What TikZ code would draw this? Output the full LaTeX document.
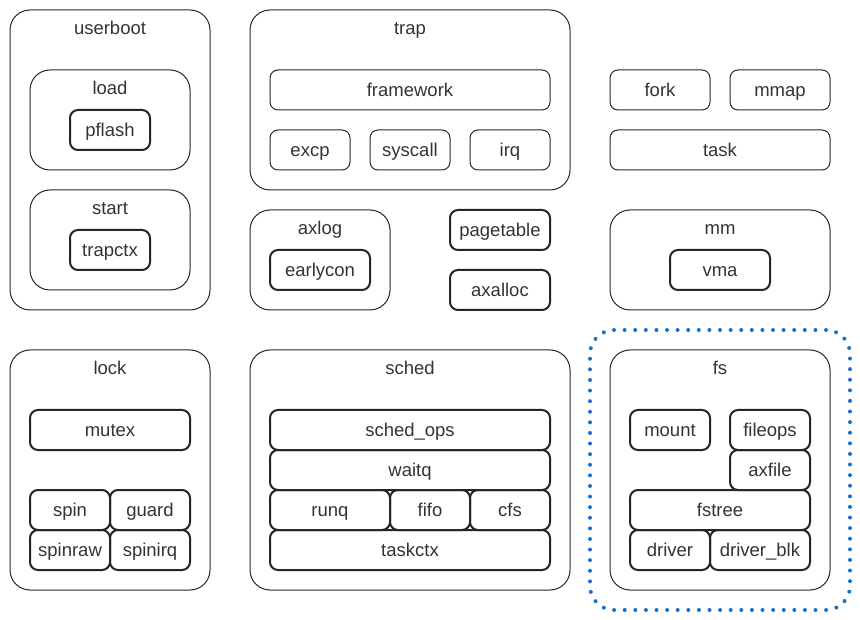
\documentclass[tikz,border=0pt]{standalone}
\usepackage{fontspec}
\setmainfont{Liberation Sans}
\usetikzlibrary{calc}
\definecolor{txt}{HTML}{333333}
\definecolor{dotblue}{HTML}{1B6FC8}
\tikzset{
  fnt/.style={font=\fontsize{18.5}{22}\selectfont, text height=15pt, text depth=2pt},
  base/.style={draw=black!85, text=txt, inner sep=0pt, fnt},
  outer/.style={base, line width=1pt, rounded corners=20pt},
  thin/.style={base, line width=1pt, rounded corners=8pt},
  thick/.style={base, line width=2pt, rounded corners=8pt},
  ttl/.style={text=txt, inner sep=0pt, fnt},
  hl/.style={draw=dotblue, line width=4pt, dash pattern=on 0pt off 10.6pt, line cap=round, rounded corners=24pt},
}
\newcommand{\bx}[7]{% style, name, x1, y1, x2, y2, text
  \node[#1, minimum width={#5-#3}, minimum height={#6-#4}] (#2) at ({(#3+#5)/2},{(#4+#6)/2}) {#7};}
\begin{document}
\begin{tikzpicture}[x=1pt,y=-1pt]
\useasboundingbox (0,0) rectangle (860,620);
% userboot
\bx{outer}{userboot}{10}{10}{210}{310}{}
\node[ttl] (userbootT) at ($(userboot.north)+(0,18.5)$) {userboot};
\bx{outer}{load}{30}{70}{190}{170}{}
\node[ttl] (loadT) at ($(load.north)+(0,18.5)$) {load};
\bx{thick}{pflash}{70}{110}{150}{150}{pflash}
\bx{outer}{start}{30}{190}{190}{290}{}
\node[ttl] (startT) at ($(start.north)+(0,18.5)$) {start};
\bx{thick}{trapctx}{70}{230}{150}{270}{trapctx}
% trap
\bx{outer}{trap}{250}{10}{570}{190}{}
\node[ttl] (trapT) at ($(trap.north)+(0,18.5)$) {trap};
\bx{thin}{framework}{270}{70}{550}{110}{framework}
\bx{thin}{excp}{270}{130}{350}{170}{excp}
\bx{thin}{syscall}{370}{130}{450}{170}{syscall}
\bx{thin}{irq}{470}{130}{550}{170}{irq}
% axlog
\bx{outer}{axlog}{250}{210}{390}{310}{}
\node[ttl] (axlogT) at ($(axlog.north)+(0,18.5)$) {axlog};
\bx{thick}{earlycon}{270}{250}{370}{290}{earlycon}
\bx{thick}{pagetable}{450}{210}{550}{250}{pagetable}
\bx{thick}{axalloc}{450}{270}{550}{310}{axalloc}
% task group
\bx{thin}{fork}{610}{70}{710}{110}{fork}
\bx{thin}{mmap}{730}{70}{830}{110}{mmap}
\bx{thin}{task}{610}{130}{830}{170}{task}
% mm
\bx{outer}{mm}{610}{210}{830}{310}{}
\node[ttl] (mmT) at ($(mm.north)+(0,18.5)$) {mm};
\bx{thick}{vma}{670}{250}{770}{290}{vma}
% lock
\bx{outer}{lock}{10}{350}{210}{590}{}
\node[ttl] (lockT) at ($(lock.north)+(0,18.5)$) {lock};
\bx{thick}{mutex}{30}{410}{190}{450}{mutex}
\bx{thick}{spin}{30}{490}{110}{530}{spin}
\bx{thick}{guard}{110}{490}{190}{530}{guard}
\bx{thick}{spinraw}{30}{530}{110}{570}{spinraw}
\bx{thick}{spinirq}{110}{530}{190}{570}{spinirq}
% sched
\bx{outer}{sched}{250}{350}{570}{590}{}
\node[ttl] (schedT) at ($(sched.north)+(0,18.5)$) {sched};
\bx{thick}{schedops}{270}{410}{550}{450}{sched\_ops}
\bx{thick}{waitq}{270}{450}{550}{490}{waitq}
\bx{thick}{runq}{270}{490}{390}{530}{runq}
\bx{thick}{fifo}{390}{490}{470}{530}{fifo}
\bx{thick}{cfs}{470}{490}{550}{530}{cfs}
\bx{thick}{taskctx}{270}{530}{550}{570}{taskctx}
% fs
\bx{hl}{fshl}{590}{330}{850}{610}{}
\bx{outer}{fs}{610}{350}{830}{590}{}
\node[ttl] (fsT) at ($(fs.north)+(0,18.5)$) {fs};
\bx{thick}{mount}{630}{410}{710}{450}{mount}
\bx{thick}{fileops}{730}{410}{810}{450}{fileops}
\bx{thick}{axfile}{730}{450}{810}{490}{axfile}
\bx{thick}{fstree}{630}{490}{810}{530}{fstree}
\bx{thick}{driver}{630}{530}{710}{570}{driver}
\bx{thick}{driverblk}{710}{530}{810}{570}{driver\_blk}
\end{tikzpicture}
\end{document}
